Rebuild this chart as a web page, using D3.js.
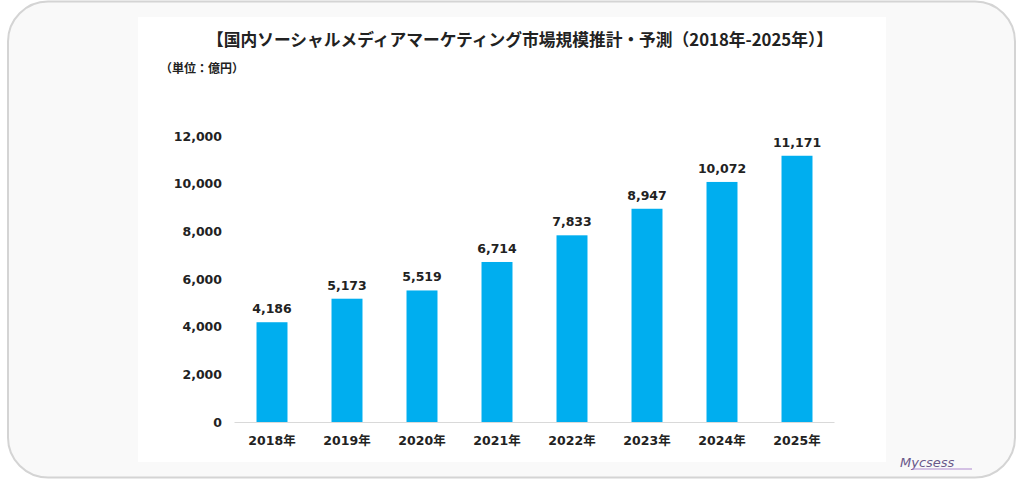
<!DOCTYPE html>
<html><head><meta charset="utf-8">
<script src="https://cdn.jsdelivr.net/npm/d3@7"></script>
<style>body{margin:0;background:#fff}svg{display:block}</style>
</head><body>
<script>
const years = ["2018年","2019年","2020年","2021年","2022年","2023年","2024年","2025年"];
const values = [4186,5173,5519,6714,7833,8947,10072,11171];
const yTicks = [0,2000,4000,6000,8000,10000,12000];
const title = "【国内ソーシャルメディアマーケティング市場規模推計・予測（2018年-2025年）】";
const unit = "（単位：億円）";

const W=1024,H=484;
const svg=d3.select("body").append("svg").attr("width",W).attr("height",H);
const font="'Noto Sans CJK JP','Noto Sans',sans-serif";
const numFont="'DejaVu Sans','Noto Sans CJK JP',sans-serif";

svg.append("rect").attr("x",8).attr("y",1.5).attr("width",1007).attr("height",476)
  .attr("rx",40).attr("fill","#f9f9f9").attr("stroke","#d4d4d4").attr("stroke-width",2);
svg.append("rect").attr("x",138).attr("y",17).attr("width",748).attr("height",445).attr("fill","#fff");

const x=d3.scaleBand().domain(years).range([234.5,834.5]).paddingInner(0.587).paddingOuter(0.2935);
const y=d3.scaleLinear().domain([0,12000]).range([422,136]);

svg.append("text").attr("x",520).attr("y",46).attr("text-anchor","middle")
  .attr("font-family",font).attr("font-weight","bold").attr("font-size",16.8).attr("fill","#222")
  .attr("textLength",626).attr("lengthAdjust","spacingAndGlyphs").text(title);
svg.append("text").attr("x",160).attr("y",73)
  .attr("font-family",font).attr("font-weight","bold").attr("font-size",12).attr("fill","#222").text(unit);

svg.append("g").selectAll("rect").data(values).join("rect")
  .attr("x",(d,i)=>x(years[i])).attr("width",x.bandwidth())
  .attr("y",d=>y(d)).attr("height",d=>y(0)-y(d)).attr("fill","#00aeef");

svg.append("line").attr("x1",234.5).attr("x2",834.5).attr("y1",y(0)+0.5).attr("y2",y(0)+0.5)
  .attr("stroke","#d9d9d9").attr("stroke-width",1);

const fmt=d3.format(",");
const yAxis=svg.append("g").attr("transform","translate(222,0)")
  .call(d3.axisLeft(y).tickValues(yTicks).tickFormat(fmt).tickSize(0).tickPadding(0));
yAxis.select(".domain").remove();
yAxis.selectAll("text").attr("font-family",numFont).attr("font-weight","bold").attr("font-size",12.5).attr("fill","#222");

const xAxis=svg.append("g").attr("transform",`translate(0,${y(0)})`)
  .call(d3.axisBottom(x).tickSize(0).tickPadding(14));
xAxis.select(".domain").remove();
xAxis.selectAll("text").attr("font-family",numFont).attr("font-weight","bold").attr("font-size",12.5).attr("fill","#222");

svg.append("g").selectAll("text").data(values).join("text")
  .attr("x",(d,i)=>x(years[i])+x.bandwidth()/2).attr("y",d=>y(d)-9)
  .attr("text-anchor","middle").attr("font-family",numFont).attr("font-weight","bold")
  .attr("font-size",12.5).attr("fill","#222").text(d=>fmt(d));

svg.append("text").attr("x",900).attr("y",467).attr("font-family","'DejaVu Sans',sans-serif")
  .attr("font-style","italic").attr("font-size",13).attr("fill","#6a5a8a").text("Mycsess");
svg.append("line").attr("x1",912).attr("x2",972).attr("y1",469).attr("y2",469).attr("stroke","#b08ad0").attr("stroke-width",1.2);
</script>
</body></html>
